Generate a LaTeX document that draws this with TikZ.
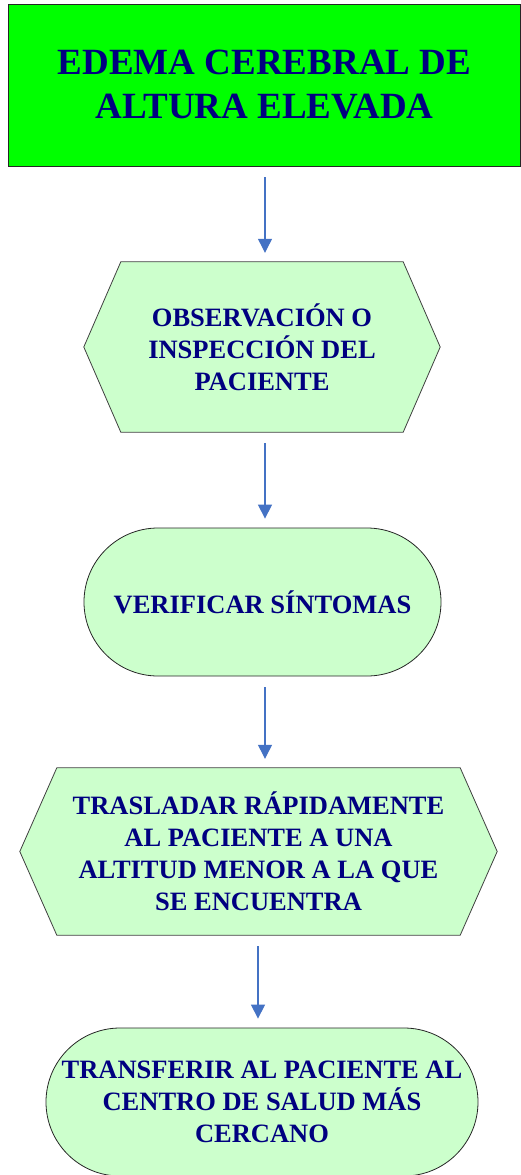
\documentclass[tikz,border=0pt]{standalone}
\usepackage{fontspec}
\setmainfont{Liberation Serif}
\usetikzlibrary{arrows.meta,backgrounds}
\definecolor{titlegreen}{RGB}{0,255,0}
\definecolor{palegreen}{RGB}{204,255,204}
\definecolor{navytext}{RGB}{0,0,128}
\definecolor{arrowblue}{RGB}{68,114,196}

\begin{document}
\begin{tikzpicture}[x=1pt,y=-1pt]
		\tikzstyle{every node}+=[inner sep=0pt,text=navytext,align=center,font=\fontsize{26.5}{32}\selectfont\bfseries]
		\tikzstyle{titlebox}=[draw=black!85,fill=titlegreen,line width=0.9pt,minimum width=512pt,minimum height=162pt,font=\fontsize{37}{44}\selectfont\bfseries]
		\tikzstyle{hexline}=[draw=black!75,fill=palegreen,line width=0.8pt]
		\tikzstyle{roundbox}=[draw=black!85,fill=palegreen,line width=0.8pt,rounded corners=74pt,minimum height=148pt]
		\tikzstyle{flow}=[draw=arrowblue,line width=1.2pt,-{Triangle[width=14pt,length=14pt]},shorten <=11pt,shorten >=9pt]
		\useasboundingbox (0,0) rectangle (521,1175);
		% nodes
		\node [titlebox] (title) at (264.5,85) {EDEMA CEREBRAL DE\\ALTURA ELEVADA};
		\node [minimum width=356pt,minimum height=170pt] (obs) at (262,347) {OBSERVACIÓN O\\INSPECCIÓN DEL\\PACIENTE};
		\node [roundbox,minimum width=357pt] (verif) at (262.5,602) {VERIFICAR SÍNTOMAS};
		\node [minimum width=477pt,minimum height=167pt] (tras) at (258.5,851.5) {TRASLADAR RÁPIDAMENTE\\AL PACIENTE A UNA\\ALTITUD MENOR A LA QUE\\SE ENCUENTRA};
		\node [roundbox,minimum width=432pt] (transf) at (262,1102) {TRANSFERIR AL PACIENTE AL\\CENTRO DE SALUD MÁS\\CERCANO};
		% hexagons behind the text
		\begin{pgfonlayer}{background}
			\draw [hexline] (obs.west) -- ([xshift=37pt]obs.north west) -- ([xshift=-37pt]obs.north east) -- (obs.east) -- ([xshift=-37pt]obs.south east) -- ([xshift=37pt]obs.south west) -- cycle;
			\draw [hexline] (tras.west) -- ([xshift=37pt]tras.north west) -- ([xshift=-37pt]tras.north east) -- (tras.east) -- ([xshift=-37pt]tras.south east) -- ([xshift=37pt]tras.south west) -- cycle;
		\end{pgfonlayer}
		% arrows
		\draw [flow] ([xshift=0.5pt]title.south) -- ([xshift=0.5pt]title.south |- obs.north);
		\draw [flow] ([xshift=3pt]obs.south) -- ([xshift=3pt]obs.south |- verif.north);
		\draw [flow] ([xshift=2.5pt]verif.south) -- ([xshift=2.5pt]verif.south |- tras.north);
		\draw [flow] ([xshift=-0.5pt]tras.south) -- ([xshift=-0.5pt]tras.south |- transf.north);
	\end{tikzpicture}
\end{document}
